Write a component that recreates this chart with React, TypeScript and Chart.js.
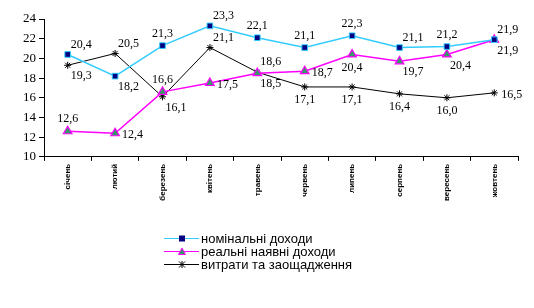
import React, { useEffect, useRef } from "react";
import { Chart, registerables } from "chart.js";

Chart.register(...registerables);

const months = ["січень", "лютий", "березень", "квітень", "травень", "червень", "липень", "серпень", "вересень", "жовтень"];
const nominal = [20.4, 18.2, 21.3, 23.3, 22.1, 21.1, 22.3, 21.1, 21.2, 21.9];
const realDisp = [12.6, 12.4, 16.6, 17.5, 18.5, 18.7, 20.4, 19.7, 20.4, 21.9];
const spending = [19.3, 20.5, 16.1, 21.1, 18.6, 17.1, 17.1, 16.4, 16.0, 16.5];
const seriesNames = ["номінальні доходи", "реальні наявні доходи", "витрати та заощадження"];
const yTicks = [10, 12, 14, 16, 18, 20, 22, 24];

// label placement codes (style only)
const posNominal = ["ar", "br", "a", "ar", "a", "a", "a", "ar", "a", "ar"];
const posReal = ["a", "r", "a", "r", "br", "r", "b", "br", "br", "br"];
const posSpend = ["br", "ar", "br", "ar", "ar", "b", "b", "b", "b", "r"];

const C_NOM = "#33CCFF";
const C_NOM_PT = "#000080";
const C_REAL = "#FF00FF";
const C_REAL_PT = "#339966";
const C_SP = "#000000";

const fmt = (v: number) => v.toFixed(1).replace(".", ",");

export default function App() {
  const ref = useRef<HTMLCanvasElement | null>(null);
  useEffect(() => {
    if (!ref.current) return;
    const positions = [posNominal, posReal, posSpend];
    const labelPlugin = {
      id: "vlabels",
      afterDatasetsDraw(chart: any) {
        const ctx = chart.ctx;
        ctx.save();
        ctx.font = "12px 'Liberation Serif', 'Times New Roman', serif";
        ctx.fillStyle = "#000";
        chart.data.datasets.forEach((ds: any, di: number) => {
          const meta = chart.getDatasetMeta(di);
          meta.data.forEach((pt: any, i: number) => {
            const p = positions[di][i];
            const t = fmt(ds.data[i]);
            let x = pt.x, y = pt.y;
            ctx.textBaseline = "middle";
            if (p === "a") { ctx.textAlign = "center"; y -= 12; }
            else if (p === "b") { ctx.textAlign = "center"; y += 13; }
            else if (p === "r") { ctx.textAlign = "left"; x += 7; y += 2; }
            else if (p === "ar") { ctx.textAlign = "left"; x += 3; y -= 10; }
            else if (p === "br") { ctx.textAlign = "left"; x += 3; y += 11; }
            ctx.fillText(t, x, y);
          });
        });
        ctx.restore();
      },
    };
    const legendPlugin = {
      id: "customLegend",
      afterDraw(chart: any) {
        const ctx = chart.ctx;
        ctx.save();
        const x0 = 164, x1 = 199, xm = 182;
        const ys = [238, 251, 264];
        ctx.font = "13px 'Liberation Sans', Arial, sans-serif";
        ctx.textBaseline = "middle";
        ctx.textAlign = "left";
        const colors = [C_NOM, C_REAL, C_SP];
        ys.forEach((y, i) => {
          ctx.strokeStyle = colors[i];
          ctx.lineWidth = 1;
          ctx.beginPath();
          ctx.moveTo(x0, y + 0.5);
          ctx.lineTo(x1, y + 0.5);
          ctx.stroke();
          if (i === 0) {
            ctx.fillStyle = C_NOM_PT;
            ctx.fillRect(xm - 3, y - 2.5, 6, 6);
          } else if (i === 1) {
            ctx.fillStyle = C_REAL_PT;
            ctx.strokeStyle = C_REAL;
            ctx.beginPath();
            ctx.moveTo(xm, y - 3);
            ctx.lineTo(xm + 3.5, y + 3.5);
            ctx.lineTo(xm - 3.5, y + 3.5);
            ctx.closePath();
            ctx.fill();
            ctx.stroke();
          } else {
            ctx.strokeStyle = C_SP;
            ctx.beginPath();
            ctx.moveTo(xm - 3, y - 2.5); ctx.lineTo(xm + 3, y + 3.5);
            ctx.moveTo(xm + 3, y - 2.5); ctx.lineTo(xm - 3, y + 3.5);
            ctx.moveTo(xm, y - 3); ctx.lineTo(xm, y + 4);
            ctx.stroke();
          }
          ctx.fillStyle = "#000";
          ctx.fillText(seriesNames[i], x1 + 2, y + 1);
        });
        ctx.restore();
      },
    };
    const chart = new Chart(ref.current, {
      type: "line",
      data: {
        labels: months,
        datasets: [
          {
            label: seriesNames[0], data: nominal, borderColor: C_NOM, borderWidth: 1.5,
            pointStyle: "rect", pointRadius: 4, pointBackgroundColor: C_NOM_PT, pointBorderColor: C_NOM, pointBorderWidth: 1,
            tension: 0,
          },
          {
            label: seriesNames[1], data: realDisp, borderColor: C_REAL, borderWidth: 1.5,
            pointStyle: "triangle", pointRadius: 5, pointBackgroundColor: C_REAL_PT, pointBorderColor: C_REAL, pointBorderWidth: 1.2,
            tension: 0,
          },
          {
            label: seriesNames[2], data: spending, borderColor: C_SP, borderWidth: 1,
            pointStyle: "star", pointRadius: 3.5, pointBackgroundColor: C_SP, pointBorderColor: C_SP, pointBorderWidth: 1,
            tension: 0,
          },
        ],
      },
      options: {
        responsive: false,
        animation: false,
        layout: { padding: { left: 20, right: 16, top: 19, bottom: 104 } },
        plugins: { legend: { display: false }, tooltip: { enabled: false } },
        scales: {
          x: {
            offset: true,
            grid: { display: true, drawOnChartArea: false, drawTicks: true, tickLength: 4, color: "#000", offset: true },
            border: { display: true, color: "#000", width: 1 },
            ticks: {
              color: "#000", minRotation: 90, maxRotation: 90, autoSkip: false, padding: 3,
              font: { family: "'Liberation Sans', Arial, sans-serif", size: 8, weight: "bold" },
            },
          },
          y: {
            min: 10, max: 24,
            afterBuildTicks: (axis: any) => { axis.ticks = yTicks.map((v) => ({ value: v })); },
            grid: { display: true, drawOnChartArea: false, drawTicks: true, tickLength: 5, color: "#000" },
            border: { display: true, color: "#000", width: 1 },
            ticks: {
              color: "#000", padding: 3, autoSkip: false,
              font: { family: "'Liberation Serif', 'Times New Roman', serif", size: 13 },
            },
          },
        },
      },
      plugins: [labelPlugin, legendPlugin],
    });
    return () => chart.destroy();
  }, []);
  return (
    <div style={{ position: "absolute", left: 0, top: 0, width: 534, height: 308, background: "#fff" }}>
      <canvas ref={ref} width={534} height={308} style={{ width: 534, height: 308 }} />
    </div>
  );
}
